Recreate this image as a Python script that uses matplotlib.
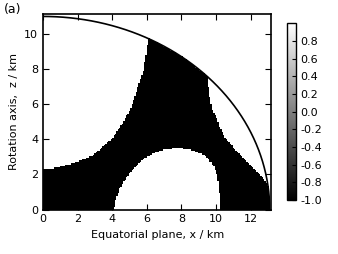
import numpy as np
import matplotlib
matplotlib.use('Agg')
import matplotlib.pyplot as plt
from matplotlib.path import Path

plt.rcParams['font.family'] = ['DejaVu Sans']
plt.rcParams['font.size'] = 8
plt.rcParams['axes.unicode_minus'] = False

# domain: ellipse semi-axes (km)
a_eq = 13.1
b_pol = 11.0

# boundary of white region at upper left (x, z in km)
left_x = [0.0, 0.6, 1.75, 2.9, 4.0, 4.6, 5.1, 5.5, 5.8, 6.0, 6.07]
left_z = [2.28, 2.35, 2.63, 3.1, 4.06, 4.9, 5.8, 7.0, 7.95, 9.0, 9.66]

# boundary of white crescent at right
right_x = [9.49, 9.6, 9.78, 9.97, 10.16, 10.55, 11.0, 11.42, 12.19, 12.68, 12.97]
right_z = [7.48, 6.6, 5.68, 5.38, 4.81, 4.06, 3.55, 3.1, 2.35, 1.87, 1.4]

# boundary of inner white cap near the equator
inner_x = [4.1, 4.2, 4.45, 5.05, 5.8, 6.6, 7.2, 7.85, 8.6, 9.3, 9.85, 10.1, 10.2, 10.26]
inner_z = [0.0, 0.6, 1.2, 2.15, 2.92, 3.3, 3.45, 3.52, 3.4, 3.1, 2.55, 1.8, 1.0, 0.0]

cb_ticks = [-1.0, -0.8, -0.6, -0.4, -0.2, 0.0, 0.2, 0.4, 0.6, 0.8]

# grid
dx = 0.08
xe = np.arange(0, 13.2 + dx, dx)
ze = np.arange(0, 11.2 + dx, dx)
xc = 0.5 * (xe[:-1] + xe[1:])
zc = 0.5 * (ze[:-1] + ze[1:])
X, Z = np.meshgrid(xc, zc)
pts = np.column_stack([X.ravel(), Z.ravel()])

inside = (X / a_eq) ** 2 + (Z / b_pol) ** 2 <= 1.0

p_left = Path(list(zip(left_x + [6.07, -1.0, -1.0], left_z + [13.0, 13.0, 2.28])))
p_right = Path(list(zip(right_x + [15.0, 15.0, 9.45], right_z + [1.4, 13.0, 13.0])))
p_inner = Path(list(zip(inner_x + [10.26, 4.1], inner_z + [-1.0, -1.0])))

white = (p_left.contains_points(pts) | p_right.contains_points(pts)
         | p_inner.contains_points(pts)).reshape(X.shape)
field = np.where(inside & ~white, -1.0, 1.0)

fig = plt.figure(figsize=(3.38, 2.54), dpi=100)
ax = fig.add_axes([0.127, 0.175, 0.676, 0.770])
mesh = ax.pcolormesh(xe, ze, field, cmap='gray', vmin=-1, vmax=1, shading='flat')

# domain boundary
th = np.linspace(0, np.pi / 2, 300)
ax.plot(a_eq * np.cos(th), b_pol * np.sin(th), color='black', lw=1.2)

ax.set_xlim(0, 13.2)
ax.set_ylim(0, 11.14)
ax.set_xticks([0, 2, 4, 6, 8, 10, 12])
ax.set_yticks([0, 2, 4, 6, 8, 10])
ax.tick_params(direction='in', top=True, right=True, length=4, width=0.8, pad=3.5)
for s in ax.spines.values():
    s.set_linewidth(1.2)
ax.set_xlabel('Equatorial plane, x / km', labelpad=4)
ax.set_ylabel('Rotation axis,  z / km', labelpad=4)

cax = fig.add_axes([0.848, 0.2126, 0.0275, 0.696])
cb = fig.colorbar(mesh, cax=cax, ticks=cb_ticks)
cb.ax.set_yticklabels(['%.1f' % t for t in cb_ticks])
cb.ax.tick_params(direction='in', length=3, width=0.8, pad=3)
cb.outline.set_linewidth(1.0)

fig.text(0.01, 0.99, '(a)', va='top', ha='left', fontsize=9)

fig.savefig('out.png', dpi=100)
